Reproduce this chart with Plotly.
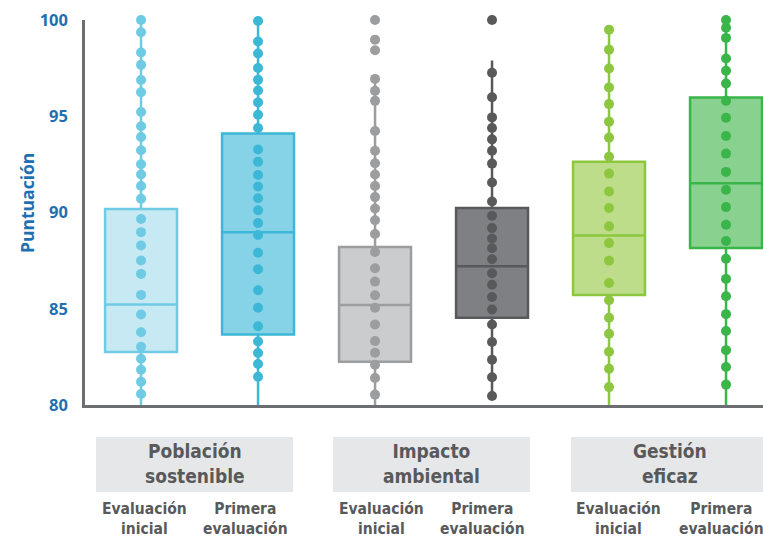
import plotly.graph_objects as go

# ---------------- data ----------------
groups = ["Población<br>sostenible", "Impacto<br>ambiental", "Gestión<br>eficaz"]
sub_labels = ["Evaluación<br>inicial", "Primera<br>evaluación"]

pob_inicial = [100.0, 99.36, 98.31, 97.67, 96.88, 96.25, 95.22, 94.48, 93.92, 93.23, 92.51, 91.97,
               91.38, 90.71, 89.66, 88.98, 88.29, 87.51, 86.81, 85.72, 84.70, 83.78, 83.02, 82.40,
               81.83, 81.21, 80.57]
pob_primera = [99.95, 98.88, 98.26, 97.51, 96.89, 96.34, 95.72, 95.08, 94.39, 93.27, 92.63, 91.95,
               91.35, 90.74, 90.12, 89.45, 88.83, 87.91, 87.05, 85.96, 85.05, 84.09, 83.30, 82.70,
               82.13, 81.47]
imp_inicial = [100.0, 98.98, 98.43, 96.94, 96.32, 95.80, 94.23, 93.21, 92.56, 91.97, 91.38, 90.80,
               90.21, 89.60, 88.88, 87.95, 87.10, 86.41, 85.70, 85.05, 84.18, 83.32, 82.71, 82.09,
               81.40, 80.54]
imp_primera = [100.0, 97.26, 95.99, 94.94, 94.39, 93.80, 93.21, 92.54, 91.56, 90.57, 89.83, 89.19,
               88.65, 88.14, 87.57, 86.84, 86.25, 85.61, 84.96, 84.18, 83.27, 82.35, 81.44, 80.47]
ges_inicial = [99.50, 98.46, 97.48, 96.50, 95.63, 94.72, 93.89, 92.90, 92.02, 91.09, 90.23, 89.28,
               88.41, 87.50, 86.34, 85.44, 84.53, 83.70, 82.77, 81.88, 80.93]
ges_primera = [100.0, 99.60, 99.07, 98.00, 97.36, 96.70, 95.80, 94.92, 93.97, 93.06, 92.11, 91.18,
               90.28, 89.36, 88.52, 87.60, 86.55, 85.65, 84.72, 83.84, 82.85, 81.97, 81.06]

series_points = [pob_inicial, pob_primera, imp_inicial, imp_primera, ges_inicial, ges_primera]

q1 = [82.75, 83.66, 82.25, 84.53, 85.72, 88.16]
median = [85.22, 88.97, 85.20, 87.21, 88.81, 91.52]
q3 = [90.18, 94.11, 88.21, 90.23, 92.64, 95.98]
lowerfence = [80.0, 80.0, 80.0, 80.47, 80.0, 80.0]
upperfence = [100.0, 99.95, 97.1, 97.9, 99.5, 100.0]

fill_colors = ["#c6e9f4", "#86d3e8", "#cbcccd", "#7f8083", "#bddd8b", "#88d18f"]
line_colors = ["#6fcbe4", "#3cb8d6", "#9c9d9f", "#58595b", "#8dc63f", "#39b54a"]

y_ticks = [80, 85, 90, 95, 100]

# ---------------- layout geometry (pixels) ----------------
W, H = 763, 538
L, R, T, B = 85, 0, 20, 133
PW, PH = W - L - R, H - T - B


def px(xp):
    return (xp - L) / PW


def py(yp):
    return (H - B - yp) / PH


fig = go.Figure()

for i in range(6):
    fig.add_trace(go.Box(
        x=[i], q1=[q1[i]], median=[median[i]], q3=[q3[i]],
        lowerfence=[lowerfence[i]], upperfence=[upperfence[i]],
        width=0.615, whiskerwidth=0,
        fillcolor=fill_colors[i],
        line=dict(color=line_colors[i], width=2.5),
        boxpoints=False, hoverinfo="skip", showlegend=False,
    ))

for i in range(6):
    fig.add_trace(go.Scatter(
        x=[i] * len(series_points[i]), y=series_points[i], mode="markers",
        marker=dict(color=line_colors[i], size=10, line=dict(width=0)),
        cliponaxis=False, showlegend=False, hoverinfo="y",
    ))

shapes = []
annotations = []
label_font = "Liberation Sans Narrow, DejaVu Sans Condensed, Arial Narrow, sans-serif"
group_rects = [(96, 293), (333, 530), (571, 768)]
sub_centers = [(144, 245), (381, 483), (618, 721)]
for g, (x0, x1) in enumerate(group_rects):
    shapes.append(dict(type="rect", xref="paper", yref="paper",
                       x0=px(x0), x1=px(x1), y0=py(492), y1=py(437),
                       fillcolor="#e6e7e8", line=dict(width=0), layer="below"))
    annotations.append(dict(xref="paper", yref="paper", x=px((x0 + x1) / 2), y=py(463.5),
                            text="<b>" + groups[g] + "</b>", showarrow=False,
                            font=dict(family=label_font, size=19, color="#58595b"),
                            xanchor="center", yanchor="middle"))
    for s in range(2):
        annotations.append(dict(xref="paper", yref="paper", x=px(sub_centers[g][s]), y=py(518.5),
                                text="<b>" + sub_labels[s] + "</b>", showarrow=False,
                                font=dict(family=label_font, size=15.5, color="#58595b"),
                                xanchor="center", yanchor="middle"))

annotations.append(dict(xref="paper", yref="paper", x=px(27), y=py(203),
                        text="<b>Puntuación</b>", textangle=-90, showarrow=False,
                        font=dict(family="Open Sans, sans-serif", size=17.5, color="#1f70b0"),
                        xanchor="center", yanchor="middle"))

fig.update_layout(
    width=W, height=H,
    margin=dict(l=L, r=R, t=T, b=B),
    paper_bgcolor="white", plot_bgcolor="white",
    boxmode="overlay",
    shapes=shapes, annotations=annotations,
    xaxis=dict(range=[-0.479, 5.316], showgrid=False, zeroline=False, showticklabels=False,
               ticks="", showline=True, linecolor="#6d6e71", linewidth=2.5),
    yaxis=dict(range=[80, 100], tickvals=y_ticks, ticktext=["<b>%d</b>" % v for v in y_ticks],
               showgrid=False, zeroline=False, showline=True, linecolor="#6d6e71", linewidth=2.5,
               ticks="outside", ticklen=11, tickcolor="rgba(0,0,0,0)",
               tickfont=dict(family="Open Sans, sans-serif", size=16.5, color="#1f70b0")),
)

fig.write_html("out.html")
